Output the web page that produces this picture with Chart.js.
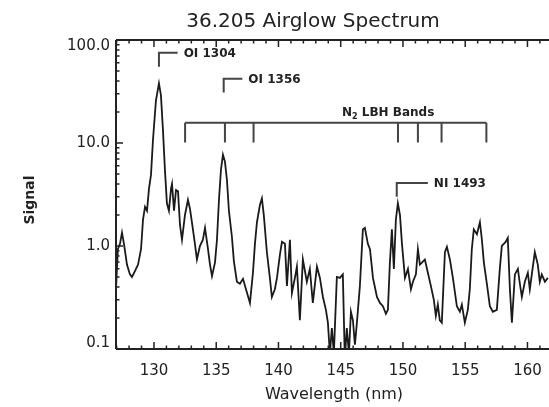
<!DOCTYPE html>
<html>
<head>
<meta charset="utf-8">
<script src="https://cdn.jsdelivr.net/npm/chart.js"></script>
<style>
  html, body { margin: 0; padding: 0; background: #fff; overflow: hidden; }
  #wrap { width: 549px; height: 407px; position: relative; }
</style>
</head>
<body>
<div id="wrap"><canvas id="spec"></canvas></div>
<script>
// Espectro de airglow 36.205
const wavelength = [
  126.95, 127.1, 127.27, 127.43, 127.59, 127.83, 128.07, 128.23, 128.47, 128.72,
  128.96, 129.12, 129.28, 129.44, 129.6, 129.76, 129.92, 130.16, 130.4, 130.56,
  130.72, 130.88, 131.04, 131.2, 131.37, 131.45, 131.61, 131.77, 131.93, 132.09,
  132.25, 132.49, 132.73, 132.89, 133.05, 133.29, 133.45, 133.69, 133.93, 134.1,
  134.34, 134.5, 134.66, 134.9, 135.06, 135.22, 135.38, 135.54, 135.7, 135.86,
  136.02, 136.26, 136.42, 136.66, 136.9, 137.15, 137.39, 137.71, 137.95, 138.11,
  138.27, 138.51, 138.67, 138.83, 139.07, 139.31, 139.47, 139.71, 139.88, 140.12,
  140.28, 140.52, 140.68, 140.92, 141.08, 141.32, 141.48, 141.72, 141.96, 142.28,
  142.52, 142.76, 143.09, 143.33, 143.57, 143.81, 143.97, 144.13, 144.29, 144.45,
  144.69, 144.93, 145.17, 145.33, 145.49, 145.66, 145.82, 145.98, 146.14, 146.3,
  146.54, 146.78, 146.94, 147.18, 147.35, 147.59, 147.91, 148.15, 148.39, 148.63,
  148.79, 148.95, 149.11, 149.27, 149.43, 149.59, 149.76, 149.92, 150.16, 150.4,
  150.64, 150.8, 151.04, 151.2, 151.36, 151.52, 151.76, 152.0, 152.24, 152.48,
  152.64, 152.8, 152.96, 153.12, 153.37, 153.53, 153.77, 154.01, 154.33, 154.57,
  154.73, 154.97, 155.21, 155.37, 155.53, 155.69, 155.94, 156.18, 156.34, 156.5,
  156.74, 156.98, 157.22, 157.54, 157.78, 157.94, 158.1, 158.26, 158.42, 158.59,
  158.75, 158.99, 159.23, 159.39, 159.55, 159.79, 160.03, 160.19, 160.35, 160.59,
  160.83, 160.99, 161.15, 161.4, 161.64
];
const signal = [
  0.38, 0.93, 1.05, 1.35, 1.05, 0.66, 0.53, 0.50, 0.57, 0.66,
  0.93, 1.8, 2.4, 2.2, 3.6, 4.9, 10.7, 26, 38, 29,
  13.5, 5.5, 2.6, 2.2, 3.6, 4.0, 2.2, 3.5, 3.4, 1.6,
  1.15, 2.0, 2.8, 2.3, 1.7, 1.05, 0.74, 1.0, 1.15, 1.5,
  0.93, 0.66, 0.51, 0.69, 1.15, 2.8, 5.5, 7.7, 6.6, 4.4,
  2.2, 1.23, 0.71, 0.45, 0.43, 0.48, 0.38, 0.28, 0.55, 1.05,
  1.7, 2.5, 2.9, 1.95, 0.87, 0.49, 0.32, 0.38, 0.49, 0.83,
  1.1, 1.05, 0.41, 1.15, 0.35, 0.49, 0.63, 0.19, 0.74, 0.45,
  0.6, 0.28, 0.63, 0.49, 0.32, 0.24, 0.18, 0.09, 0.16, 0.09,
  0.5, 0.49, 0.53, 0.08, 0.16, 0.09, 0.23, 0.19, 0.11, 0.18,
  0.41, 1.45, 1.5, 1.05, 0.93, 0.49, 0.32, 0.28, 0.26, 0.22,
  0.24, 0.69, 1.45, 0.6, 1.8, 2.6, 2.0, 1.05, 0.49, 0.6,
  0.38, 0.45, 0.53, 0.93, 0.66, 0.69, 0.74, 0.55, 0.41, 0.3,
  0.21, 0.27, 0.19, 0.18, 0.87, 0.98, 0.74, 0.49, 0.26, 0.23,
  0.27, 0.18, 0.24, 0.38, 0.93, 1.45, 1.3, 1.7, 1.15, 0.69,
  0.43, 0.26, 0.23, 0.24, 0.6, 1.0, 1.05, 1.1, 1.2, 0.38,
  0.18, 0.53, 0.6, 0.43, 0.32, 0.45, 0.55, 0.38, 0.53, 0.87,
  0.66, 0.45, 0.53, 0.45, 0.49
];

const xTicks = [130, 135, 140, 145, 150, 155, 160];
const yTicks = [0.1, 1, 10, 100];
const yTickLabels = ['0.1', '1.0', '10.0', '100.0'];

// linhas identificadas
const lineNames = ['OI 1304', 'OI 1356', 'NI 1493'];
const lineWavelengths = [130.4, 135.6, 149.5];
const lineLow = [55, 31, 3.0];
const lineHigh = [75, 42, 4.1];
const lineArm = [1.5, 1.5, 2.5];

// bandas N2 LBH
const lbhBands = [132.5, 135.7, 138.0, 149.6, 151.2, 153.1, 156.7];
const lbhTop = 15.7;
const lbhBottom = 10.1;

const FONT = '"DejaVu Sans", sans-serif';
const INK = '#222';

const framePlugin = {
  id: 'frame',
  afterDraw(chart) {
    const ctx = chart.ctx;
    const { left, right, top, bottom } = chart.chartArea;
    const x = chart.scales.x;
    const y = chart.scales.y;
    ctx.save();
    ctx.strokeStyle = INK;
    ctx.fillStyle = INK;

    // eixos (sem o da direita, fica fora da imagem)
    ctx.lineWidth = 2;
    ctx.beginPath();
    ctx.moveTo(left, top); ctx.lineTo(right, top);
    ctx.moveTo(left, top); ctx.lineTo(left, bottom);
    ctx.moveTo(left, bottom); ctx.lineTo(right, bottom);
    ctx.stroke();

    // ticks para dentro, estilo IDL
    ctx.lineWidth = 1.5;
    ctx.beginPath();
    for (let v = 127; v <= 161; v++) {
      const px = x.getPixelForValue(v);
      const len = v % 5 === 0 ? 7 : 3.5;
      ctx.moveTo(px, bottom); ctx.lineTo(px, bottom - len);
      ctx.moveTo(px, top); ctx.lineTo(px, top + len);
    }
    [0.1, 1, 10].forEach(d => {
      for (let k = 1; k <= 10; k++) {
        const py = y.getPixelForValue(k * d);
        const len = (k === 1 || k === 10) ? 7 : 3.5;
        ctx.moveTo(left, py); ctx.lineTo(left + len, py);
      }
    });
    ctx.stroke();

    // rotulos dos ticks
    ctx.font = '15px ' + FONT;
    ctx.textAlign = 'center';
    ctx.textBaseline = 'middle';
    xTicks.forEach(v => ctx.fillText(String(v), x.getPixelForValue(v), bottom + 22));
    ctx.textAlign = 'right';
    yTicks.forEach((v, i) => {
      let py = y.getPixelForValue(v);
      if (i === 0) py -= 6;
      if (i === yTicks.length - 1) py += 6;
      ctx.fillText(yTickLabels[i], left - 6, py);
    });

    // titulos
    ctx.textAlign = 'center';
    ctx.font = '20px ' + FONT;
    ctx.fillText('36.205 Airglow Spectrum', 313, 22);
    ctx.font = '16px ' + FONT;
    ctx.fillText('Wavelength (nm)', 334, 395);
    ctx.save();
    ctx.translate(30, 200);
    ctx.rotate(-Math.PI / 2);
    ctx.font = 'bold 14px ' + FONT;
    ctx.fillText('Signal', 0, 0);
    ctx.restore();

    // marcadores das linhas
    ctx.strokeStyle = '#444';
    ctx.lineWidth = 2;
    ctx.font = 'bold 12px ' + FONT;
    ctx.textAlign = 'left';
    lineNames.forEach((name, i) => {
      const px = x.getPixelForValue(lineWavelengths[i]);
      const pLow = y.getPixelForValue(lineLow[i]);
      const pHigh = y.getPixelForValue(lineHigh[i]);
      const pArm = x.getPixelForValue(lineWavelengths[i] + lineArm[i]);
      ctx.beginPath();
      ctx.moveTo(px, pLow); ctx.lineTo(px, pHigh); ctx.lineTo(pArm, pHigh);
      ctx.stroke();
      ctx.fillText(name, pArm + 6, pHigh + 1);
    });

    // N2 LBH
    const yTop = y.getPixelForValue(lbhTop);
    const yBot = y.getPixelForValue(lbhBottom);
    ctx.beginPath();
    ctx.moveTo(x.getPixelForValue(lbhBands[0]), yTop);
    ctx.lineTo(x.getPixelForValue(lbhBands[lbhBands.length - 1]), yTop);
    lbhBands.forEach(b => {
      const px = x.getPixelForValue(b);
      ctx.moveTo(px, yTop); ctx.lineTo(px, yBot);
    });
    ctx.stroke();
    const labX = 342, labY = yTop - 10;
    ctx.fillText('N', labX, labY);
    const wN = ctx.measureText('N').width;
    ctx.font = 'bold 8px ' + FONT;
    ctx.fillText('2', labX + wN, labY + 4);
    const w2 = ctx.measureText('2').width;
    ctx.font = 'bold 12px ' + FONT;
    ctx.fillText(' LBH Bands', labX + wN + w2, labY);

    ctx.restore();
  }
};

const ctxSpec = document.getElementById('spec');
new Chart(ctxSpec, {
  type: 'line',
  data: {
    datasets: [{
      label: 'Signal',
      data: wavelength.map((w, i) => ({ x: w, y: signal[i] })),
      borderColor: '#1a1a1a',
      borderWidth: 1.8,
      pointRadius: 0,
      tension: 0,
      fill: false
    }]
  },
  options: {
    responsive: true,
    maintainAspectRatio: false,
    animation: false,
    layout: { padding: { top: 40, right: 0, bottom: 0, left: 0 } },
    plugins: { legend: { display: false }, tooltip: { enabled: false }, title: { display: false } },
    scales: {
      x: {
        type: 'linear',
        min: 126.95,
        max: 161.73,
        grid: { display: false },
        border: { display: false },
        ticks: { display: false },
        afterFit(scale) { scale.height = 58; }
      },
      y: {
        type: 'logarithmic',
        min: 0.1,
        max: 100,
        grid: { display: false },
        border: { display: false },
        ticks: { display: false },
        afterFit(scale) { scale.width = 116; }
      }
    }
  },
  plugins: [framePlugin]
});
</script>
</body>
</html>
